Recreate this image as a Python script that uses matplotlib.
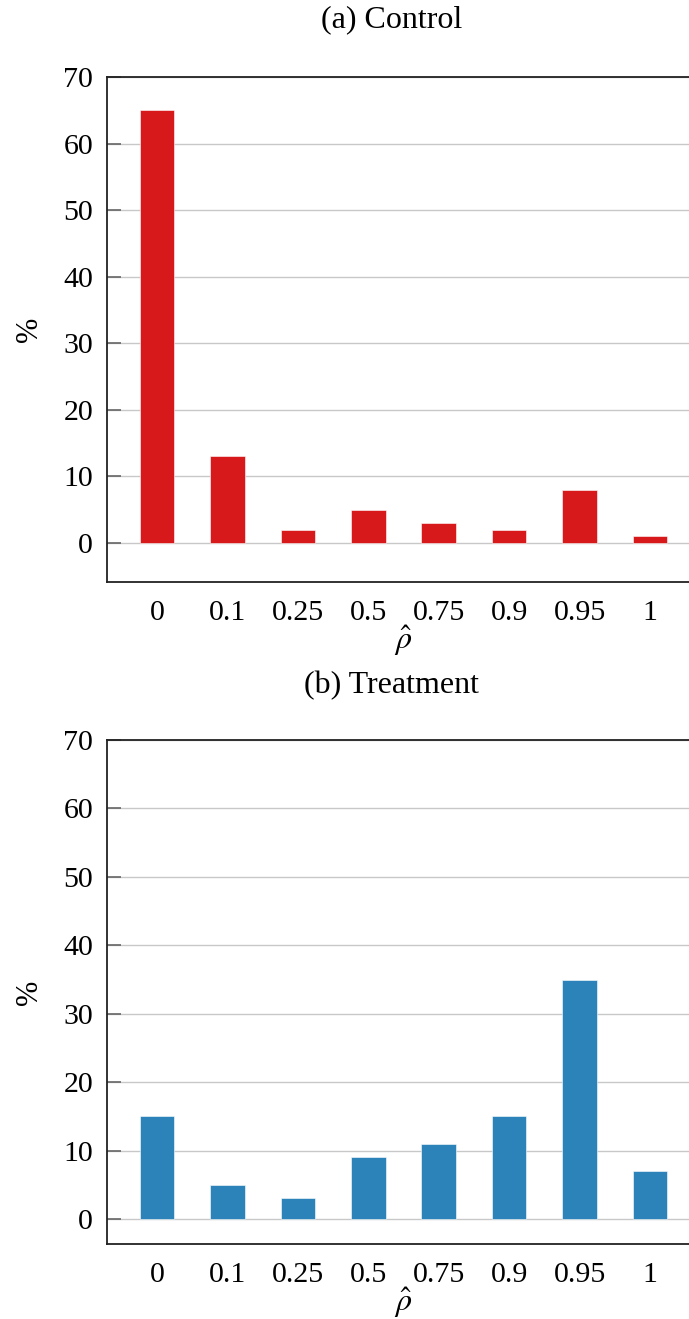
import matplotlib
matplotlib.use("Agg")
import matplotlib.pyplot as plt
import numpy as np

rho_labels = ["0", "0.1", "0.25", "0.5", "0.75", "0.9", "0.95", "1"]
control_pct = [65, 13, 2, 5, 3, 2, 8, 1]
treatment_pct = [15, 5, 3, 9, 11, 15, 35, 7]
y_ticks = [0, 10, 20, 30, 40, 50, 60, 70]

RED = "#d7191c"
BLUE = "#2c83ba"

plt.rcParams["font.family"] = ["Liberation Serif", "DejaVu Serif"]
plt.rcParams["mathtext.fontset"] = "stix"

W, H = 689, 1319
fig = plt.figure(figsize=(W / 100, H / 100), dpi=100)


def px_axes(left, top, right, bottom):
  return fig.add_axes([left / W, 1 - bottom / H, (right - left) / W, (bottom - top) / H])


def draw_panel(ax, values, color, ymin, title, title_y):
  x = np.arange(len(rho_labels))
  ax.set_axisbelow(True)
  ax.yaxis.grid(True, color="#c8c8c8", linewidth=1.0)
  ax.bar(x, values, width=0.49, color=color, edgecolor="white", linewidth=0.4)
  ax.set_xlim(-0.71, len(rho_labels) - 1 + 0.71)
  ax.set_ylim(ymin, 70)
  ax.set_yticks(y_ticks)
  ax.set_xticks(x)
  ax.set_xticklabels(rho_labels)
  ax.tick_params(axis="x", length=0, pad=13, labelsize=21.5)
  ax.tick_params(axis="y", direction="in", length=10, width=1.2, color="#666666",
                 pad=10, labelsize=21.5)
  for s in ax.spines.values():
    s.set_linewidth(1.3)
    s.set_color("#222222")
  ax.spines["right"].set_visible(False)
  ax.set_ylabel("%", fontsize=22, labelpad=14)
  ax.set_xlabel(r"$\hat{\rho}$", fontsize=23, labelpad=-2)
  fig.text(392 / W, 1 - title_y / H, title, ha="center", va="center", fontsize=23)


ax1 = px_axes(107, 77, 700, 582)
draw_panel(ax1, control_pct, RED, -5.86, "(a) Control", 20)

ax2 = px_axes(107, 740, 700, 1244)
draw_panel(ax2, treatment_pct, BLUE, -3.65, "(b) Treatment", 686)

fig.savefig("out.png", dpi=100)
